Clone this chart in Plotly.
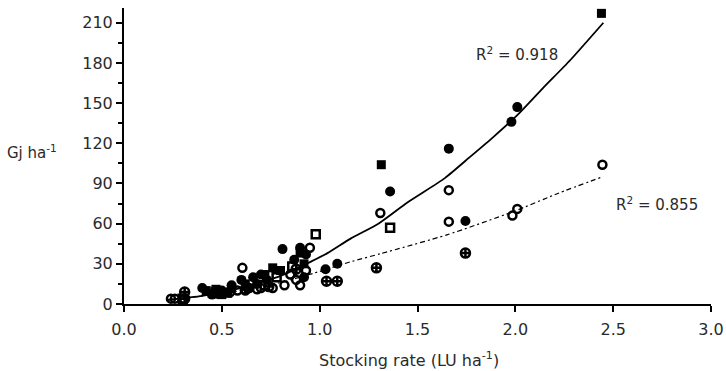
import plotly.graph_objects as go

# ---- data ----
fsq_x = [2.44, 1.315, 0.42, 0.45, 0.55, 0.62, 0.72, 0.76, 0.80, 0.90, 0.92, 0.50, 0.47, 0.53]
fsq_y = [217, 104, 10, 8, 12, 15, 22, 27, 25, 38, 30, 7, 11, 8]

fci_x = [2.01, 1.98, 1.66, 1.36, 1.745, 0.81, 0.90, 1.03, 1.09, 0.50, 0.55, 0.60,
         0.66, 0.70, 0.68, 0.87, 0.93, 0.45, 0.40, 0.92, 0.73, 0.63]
fci_y = [147, 136, 116, 84, 62, 41, 42, 26, 30, 10, 14, 18,
         20, 22, 15, 33, 37, 7, 12, 20, 18, 12]

oci_x = [2.445, 1.31, 1.66, 1.66, 1.985, 2.01, 0.95, 0.90, 0.605, 0.58, 0.62, 0.64,
         0.24, 0.26, 0.70, 0.76, 0.82, 0.85, 0.93, 0.88, 0.50, 0.68]
oci_y = [104, 68, 85, 61.5, 66, 71, 42, 14, 27, 10, 10, 12,
         4, 4, 12, 12, 14, 22, 25, 18, 8, 11]

osq_x = [0.98, 1.36, 0.30, 0.72, 0.78, 0.47, 0.86]
osq_y = [52, 57, 4, 14, 20, 9, 28]

ocr_x = [1.745, 1.035, 1.09, 1.29, 0.31, 0.31, 0.48, 0.54, 0.62, 0.88, 0.74]
ocr_y = [38, 17, 17, 27, 9, 4, 8, 9, 11, 26, 13]

fit1_x = [0.22, 0.40, 0.60, 0.80, 0.96, 1.04, 1.16, 1.30, 1.45, 1.64, 1.77, 1.89, 2.01, 2.14, 2.28, 2.45]
fit1_y = [3, 6, 12, 21, 32, 38, 49, 60, 76, 94, 110, 125, 141, 161, 182, 210]

fit2_x = [0.22, 0.40, 0.60, 0.80, 0.97, 1.16, 1.31, 1.65, 1.99, 2.22, 2.45]
fit2_y = [3, 6, 10, 16, 23, 31.6, 37.5, 51.6, 69, 82.7, 95.2]

r2_labels = ["R<sup>2</sup> = 0.918", "R<sup>2</sup> = 0.855"]
r2_pos_x = [2.01, 2.725]
r2_pos_y = [187, 75]

x_ticks = [0.0, 0.5, 1.0, 1.5, 2.0, 2.5, 3.0]
x_ticktext = ["0.0", "0.5", "1.0", "1.5", "2.0", "2.5", "3.0"]
y_ticks = [0, 30, 60, 90, 120, 150, 180, 210]

x_title = "Stocking rate (LU ha<sup>-1</sup>)"
y_title = "Gj ha<sup>-1</sup>"

FONT = "DejaVu Sans"
TXT = "#2a2a2a"
fig = go.Figure()

fig.add_trace(go.Scatter(x=fit1_x, y=fit1_y, mode="lines", line=dict(color="black", width=1.8, shape="spline", smoothing=0.6),
                         showlegend=False, hoverinfo="skip"))
fig.add_trace(go.Scatter(x=fit2_x, y=fit2_y, mode="lines", line=dict(color="black", width=1.2, dash="5px,3px,2px,3px", shape="spline", smoothing=0.6),
                         showlegend=False, hoverinfo="skip"))

fig.add_trace(go.Scatter(x=oci_x, y=oci_y, mode="markers", cliponaxis=False,
                         marker=dict(symbol="circle-open", size=8, color="black", line=dict(width=2.5)), showlegend=False))
fig.add_trace(go.Scatter(x=osq_x, y=osq_y, mode="markers", cliponaxis=False,
                         marker=dict(symbol="square-open", size=8, color="black", line=dict(width=2.5)), showlegend=False))
fig.add_trace(go.Scatter(x=ocr_x, y=ocr_y, mode="markers", cliponaxis=False,
                         marker=dict(symbol="circle-cross-open", size=9, color="black", line=dict(width=2.5)), showlegend=False))
fig.add_trace(go.Scatter(x=fci_x, y=fci_y, mode="markers", cliponaxis=False,
                         marker=dict(symbol="circle", size=10, color="black", line=dict(width=0)), showlegend=False))
fig.add_trace(go.Scatter(x=fsq_x, y=fsq_y, mode="markers", cliponaxis=False,
                         marker=dict(symbol="square", size=9, color="black", line=dict(width=0)), showlegend=False))

for t, ax, ay in zip(r2_labels, r2_pos_x, r2_pos_y):
    fig.add_annotation(x=ax, y=ay, text=t, showarrow=False, font=dict(family=FONT, size=15, color=TXT))

fig.add_annotation(xref="paper", yref="paper", x=(5 - 124) / 587, y=(304 - 152) / 296, xanchor="left",
                   text=y_title, showarrow=False, font=dict(family=FONT, size=15, color=TXT))
fig.add_annotation(xref="paper", yref="paper", x=(408.5 - 124) / 587, y=(304 - 359) / 296, xanchor="center",
                   yanchor="middle", text=x_title, showarrow=False, font=dict(family=FONT, size=16, color=TXT))

fig.update_layout(
    width=726, height=371,
    margin=dict(l=124, r=15, t=8, b=67, autoexpand=False),
    paper_bgcolor="white", plot_bgcolor="white",
    font=dict(family=FONT, size=16, color=TXT),
    xaxis=dict(range=[0, 3.0], tickvals=x_ticks, ticktext=x_ticktext, showgrid=False, zeroline=False,
               showline=True, linecolor="black", linewidth=2, ticks="outside", ticklen=6, tickwidth=2,
               tickcolor="black", ticklabelstandoff=4, automargin=False),
    yaxis=dict(range=[0, 221], tickvals=y_ticks, showgrid=False, zeroline=False, automargin=False,
               showline=True, linecolor="black", linewidth=2, ticks="outside", ticklen=6, tickwidth=2,
               tickcolor="black", ticklabelstandoff=0,
               minor=dict(dtick=15, tick0=0, ticks="outside", ticklen=4, tickwidth=2, tickcolor="black", showgrid=False)),
)

fig.write_html("out.html", config={"displayModeBar": False},
               post_script="document.body.style.margin='0';document.body.style.overflow='hidden';")
